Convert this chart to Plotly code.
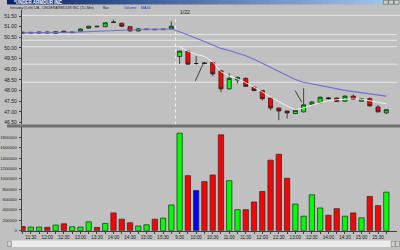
import plotly.graph_objects as go

W, H = 400, 250

# ---------------- data ----------------
day1_times = ["11:15", "11:30", "11:45", "12:00", "12:15", "12:30", "12:45", "13:00", "13:15",
              "13:30", "13:45", "14:00", "14:15", "14:30", "14:45", "15:00", "15:15", "15:30", "15:45"]
day2_times = ["9:30", "9:45", "10:00", "10:15", "10:30", "10:45", "11:00", "11:15", "11:30",
              "11:45", "12:00", "12:15", "12:30", "12:45", "13:00", "13:15", "13:30", "13:45",
              "14:00", "14:15", "14:30", "14:45", "15:00", "15:15", "15:30", "15:45"]
day2_label = "1/22"

opens = [50.74, 50.70, 50.70, 50.75, 50.69, 50.79, 50.72, 50.79, 50.93, 51.02, 51.00, 51.22, 51.16,
         51.00, 50.80, 50.86, 50.88, 50.86, 50.90,
         49.60, 49.85, 49.27, 49.30, 49.32, 48.93, 48.08, 48.50, 48.57, 48.16, 48.00, 47.65, 47.18,
         47.04, 46.92, 47.00, 47.35, 47.43, 47.66, 47.65, 47.50, 47.74, 47.50, 47.62, 47.23, 46.95]
highs = [50.76, 50.75, 50.76, 50.77, 50.78, 50.80, 50.76, 50.92, 51.04, 51.04, 51.20, 51.33, 51.19,
         51.02, 50.92, 50.89, 50.89, 50.89, 51.25,
         49.88, 49.88, 49.62, 49.33, 49.35, 48.97, 48.82, 48.66, 48.62, 48.18, 48.02, 47.68, 47.20,
         47.05, 47.10, 48.11, 47.50, 47.72, 47.70, 47.68, 47.77, 47.82, 47.64, 47.68, 47.33, 47.13]
lows = [50.68, 50.68, 50.68, 50.69, 50.67, 50.71, 50.70, 50.77, 50.91, 50.97, 50.98, 51.17, 50.98,
        50.77, 50.78, 50.84, 50.84, 50.84, 50.88,
        49.25, 49.22, 49.22, 49.24, 48.67, 47.92, 48.05, 48.34, 48.17, 47.97, 47.53, 47.07, 46.61,
        46.69, 46.90, 46.98, 47.33, 47.40, 47.58, 47.46, 47.47, 47.55, 47.48, 47.25, 46.97, 46.90]
closes = [50.70, 50.73, 50.74, 50.71, 50.76, 50.73, 50.74, 50.89, 51.02, 51.00, 51.18, 51.20, 51.02,
          50.80, 50.90, 50.88, 50.86, 50.88, 51.02,
          49.85, 49.24, 49.27, 49.27, 48.78, 48.08, 48.57, 48.62, 48.20, 48.00, 47.62, 47.18, 47.04,
          46.95, 47.07, 47.33, 47.46, 47.69, 47.62, 47.49, 47.74, 47.58, 47.61, 47.28, 47.00, 47.10]
volumes = [80000, 70000, 70000, 65000, 108000, 133000, 76000, 70000, 171000, 63000, 140000, 343000,
           222000, 152000, 89000, 114000, 222000, 241000, 495000,
           1880000, 1061000, 775000, 946000, 1073000, 1848000, 965000, 406000, 406000, 552000,
           756000, 1359000, 1473000, 1010000, 514000, 279000, 692000, 438000, 298000, 425000,
           279000, 343000, 248000, 660000, 483000, 743000]
ma34 = [50.71, 50.71, 50.72, 50.72, 50.72, 50.73, 50.74, 50.75, 50.77, 50.79, 50.81, 50.83, 50.85,
        50.86, 50.87, 50.88, 50.88, 50.89, 50.89,
        50.76, 50.62, 50.46, 50.30, 50.13, 49.98, 49.88, 49.77, 49.63, 49.47, 49.28, 49.08, 48.89,
        48.69, 48.52, 48.39, 48.31, 48.23, 48.16, 48.08, 48.01, 47.95, 47.89, 47.85, 47.78, 47.74]
fast_avg = [None] * 19 + [50.05, 49.85, 49.70, 49.60, 49.35, 48.88, 48.68, 48.55, 48.37, 48.17,
                          47.94, 47.69, 47.47, 47.27, 47.10, 47.18, 47.32, 47.43, 47.52, 47.57,
                          47.60, 47.61, 47.59, 47.53, 47.46, 47.38]
level_prices = [50.63, 50.36, 50.06, 49.24, 48.39]
# hand-drawn pointer strokes: (bar position, price) -> (bar position, price)
pointers = [((20.9, 48.46), (21.9, 49.30)), ((32.97, 48.00), (33.76, 47.46))]
price_ticks = [46.5, 47.0, 47.5, 48.0, 48.5, 49.0, 49.5, 50.0, 50.5, 51.0, 51.5]
volume_ticks = [0, 200000, 400000, 600000, 800000, 1000000, 1200000, 1400000, 1600000, 1800000]
header_items = [("Intraday (Left)", "#202020"), ("UA - UNDERARMOUR INC (15-Min)", "#202020"),
                ("Bar", "#202020"), ("Volume", "#3030c0"), ("MA34", "#3030c0")]
window_title = "*UNDER ARMOUR INC"

# ---------------- derived ----------------
times = day1_times + day2_times
xs = list(range(len(times)))
tick_text = [t if t.endswith(":00") or t.endswith(":30") else "" for t in times]
vol_colors = ["#00ff00" if c > o else ("#ff0000" if c < o else "#0000ff") for o, c in zip(opens, closes)]
day_break = len(day1_times) - 0.5

FONT = "Liberation Sans"
BG = "#c0c0c0"

def px_x(p):
    return p / W

def px_y(p):
    return 1 - p / H

x_dom = [px_x(15), px_x(397)]
x_rng = [-0.1, 45.3]

fig = go.Figure()

fig.add_trace(go.Candlestick(
    x=xs, open=opens, high=highs, low=lows, close=closes,
    increasing=dict(fillcolor="#00ff00", line=dict(color="#202020", width=0.8)),
    decreasing=dict(fillcolor="#ff0000", line=dict(color="#202020", width=0.8)),
    whiskerwidth=0, xaxis="x", yaxis="y", showlegend=False, hoverinfo="skip"))

fig.add_trace(go.Scatter(x=xs, y=fast_avg, mode="lines", line=dict(color="#f4f4f4", width=0.9),
                         xaxis="x", yaxis="y", showlegend=False, hoverinfo="skip"))
fig.add_trace(go.Scatter(x=xs, y=ma34, mode="lines", line=dict(color="#7070d4", width=1.1),
                         xaxis="x", yaxis="y", showlegend=False, hoverinfo="skip"))

fig.add_trace(go.Bar(x=xs, y=volumes, width=0.64,
                     marker=dict(color=vol_colors, line=dict(color="#303030", width=0.8)),
                     xaxis="x2", yaxis="y2", showlegend=False, hoverinfo="skip"))

shapes = []
# window title bar gradient
N = 60
c0, c1 = (10, 36, 106), (166, 202, 240)
for i in range(N):
    t = i / (N - 1)
    col = "rgb(%d,%d,%d)" % tuple(int(a + (b - a) * t) for a, b in zip(c0, c1))
    shapes.append(dict(type="rect", xref="paper", yref="paper", x0=i / N, x1=(i + 1) / N + 0.002,
                       y0=px_y(4.5), y1=1, fillcolor=col, line=dict(width=0), layer="below"))
for bx in (383, 388.5, 394):
    shapes.append(dict(type="rect", xref="paper", yref="paper", x0=px_x(bx), x1=px_x(bx + 5),
                       y0=px_y(4.2), y1=px_y(0.3), fillcolor="#d4d0c8",
                       line=dict(color="#404040", width=0.5), layer="above"))
# panel top border light line
shapes.append(dict(type="line", xref="paper", yref="paper", x0=x_dom[0], x1=1, y0=px_y(15.5),
                   y1=px_y(15.5), line=dict(color="#e4e4e4", width=1), layer="below"))
# level lines
for lv in level_prices:
    shapes.append(dict(type="line", xref="paper", yref="y", x0=x_dom[0], x1=x_dom[1], y0=lv, y1=lv,
                       line=dict(color="#e6e6e6", width=1), layer="below"))
# day divider
shapes.append(dict(type="line", xref="x", yref="paper", x0=day_break, x1=day_break,
                   y0=px_y(126), y1=px_y(15.5), line=dict(color="#f0f0f0", width=1, dash="dot"),
                   layer="below"))
# separator band between panels
shapes.append(dict(type="rect", xref="paper", yref="paper", x0=0, x1=1, y0=px_y(129), y1=px_y(126),
                   fillcolor="#707070", line=dict(width=0), layer="above"))
# bottom scrollbar
shapes.append(dict(type="rect", xref="paper", yref="paper", x0=0, x1=1, y0=0, y1=px_y(243.5),
                   fillcolor="#ececec", line=dict(width=0), layer="above"))
for bx in (0.5, 391, 395.5):
    shapes.append(dict(type="rect", xref="paper", yref="paper", x0=px_x(bx), x1=px_x(bx + 4),
                       y0=px_y(249.5), y1=px_y(244), fillcolor="#d4d0c8",
                       line=dict(color="#606060", width=0.5), layer="above"))
# pointer strokes
for (xa, ya), (xb, yb) in pointers:
    shapes.append(dict(type="line", xref="x", yref="y", x0=xa, y0=ya, x1=xb, y1=yb,
                       line=dict(color="#303030", width=0.9), layer="above"))

annotations = []
annotations.append(dict(text="<b>" + window_title + "</b>", xref="paper", yref="paper",
                        x=px_x(5), y=px_y(2.3), xanchor="left", yanchor="middle", showarrow=False,
                        font=dict(family=FONT, size=4.5, color="#ffffff")))
hx = [1, 25, 96, 117, 134]
for (txt, col), x0 in zip(header_items, hx):
    annotations.append(dict(text=txt, xref="paper", yref="paper", x=px_x(x0), y=px_y(7.8),
                            xanchor="left", yanchor="middle", showarrow=False,
                            font=dict(family=FONT, size=3.7, color=col)))
annotations.append(dict(text=day2_label, xref="x", yref="paper", x=day_break, xshift=3,
                        y=px_y(12), xanchor="left", yanchor="middle", showarrow=False,
                        font=dict(family=FONT, size=5, color="#202020")))

axis_font = dict(family=FONT, size=5, color="#202020")

fig.update_layout(
    width=W, height=H, margin=dict(l=0, r=0, t=0, b=0),
    paper_bgcolor=BG, plot_bgcolor=BG, showlegend=False,
    shapes=shapes, annotations=annotations, bargap=0,
    xaxis=dict(domain=x_dom, anchor="y", range=x_rng, showticklabels=False, showgrid=False,
               zeroline=False, showline=False, ticks="", rangeslider=dict(visible=False),
               fixedrange=True),
    yaxis=dict(domain=[px_y(126), px_y(10)], anchor="x", range=[46.407, 51.788],
               tickvals=price_ticks, ticktext=["%.2f" % v for v in price_ticks],
               tickfont=axis_font, showgrid=False, zeroline=False, showline=True,
               linecolor="#404040", linewidth=1, ticks="outside", ticklen=2, tickcolor="#404040",
               ticklabelstandoff=1, fixedrange=True),
    xaxis2=dict(domain=x_dom, anchor="y2", range=x_rng, tickvals=xs, ticktext=tick_text,
                tickfont=dict(family=FONT, size=4.6, color="#202020"), tickangle=0,
                showgrid=False, zeroline=False, showline=True, linecolor="#404040", linewidth=1,
                ticks="outside", ticklen=2, tickcolor="#404040", fixedrange=True),
    yaxis2=dict(domain=[px_y(233.5), px_y(129)], anchor="x2", range=[0, 1990500],
                tickvals=volume_ticks, ticktext=[str(v) for v in volume_ticks],
                tickfont=dict(family=FONT, size=4.3, color="#202020"), showgrid=False,
                zeroline=False, showline=True, linecolor="#404040", linewidth=1,
                ticks="outside", ticklen=2, tickcolor="#404040", ticklabelstandoff=1,
                fixedrange=True),
)

fig.write_html("out.html", config=dict(displayModeBar=False, staticPlot=True))
